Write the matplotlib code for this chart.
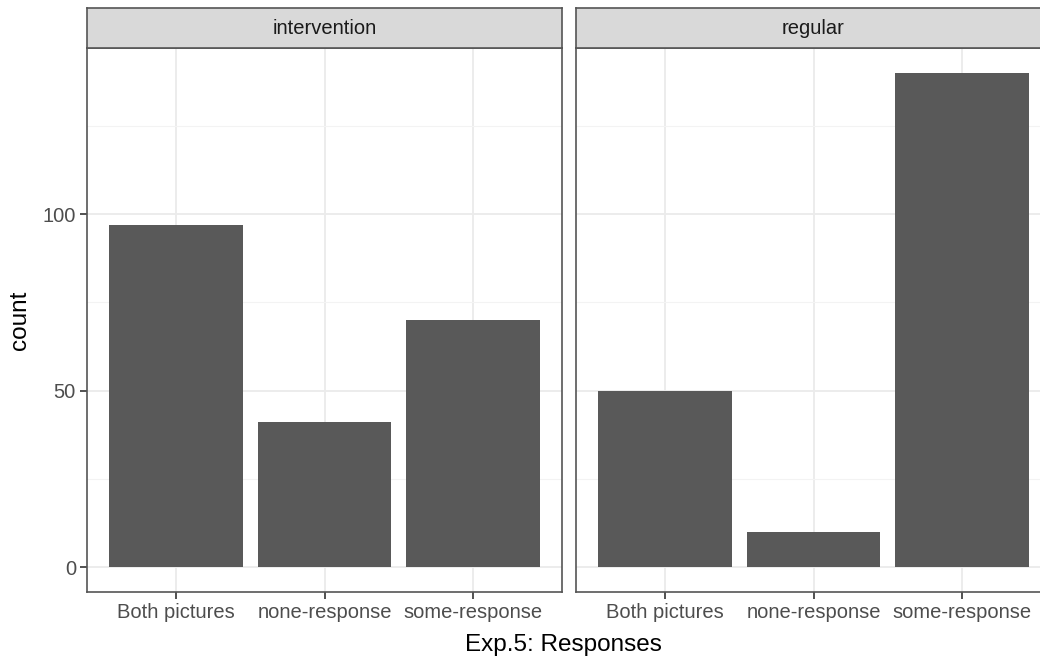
import matplotlib
matplotlib.use("Agg")
import matplotlib.pyplot as plt
from matplotlib.ticker import MultipleLocator

plt.rcParams['font.family'] = ['Liberation Sans', 'DejaVu Sans']

categories = ["Both pictures", "none-response", "some-response"]
facets = ["intervention", "regular"]
counts = {
    "intervention": [97, 41, 70],
    "regular": [50, 10, 140],
}

W, H = 1040, 659
fig = plt.figure(figsize=(W / 100, H / 100), dpi=100)

# panel boxes in pixels: left, right (right panel runs past the edge, as in the crop)
panel_px = [(87, 562), (576, 1051)]
p_top, p_bot = 48, 592
strip_top = 8

tick_col = "#4D4D4D"
border_col = "#555555"
x = list(range(1, len(categories) + 1))

for i, (facet, (l, r)) in enumerate(zip(facets, panel_px)):
    ax = fig.add_axes([l / W, 1 - p_bot / H, (r - l) / W, (p_bot - p_top) / H])
    ax.set_axisbelow(True)
    ax.bar(x, counts[facet], width=0.9, color="#595959", zorder=2)
    ax.set_xlim(0.4, 3.6)
    ax.set_ylim(-7, 147)
    ax.yaxis.set_major_locator(MultipleLocator(50))
    ax.yaxis.set_minor_locator(MultipleLocator(25))
    ax.set_xticks(x)
    ax.set_xticklabels(categories)
    ax.grid(True, which="major", color="#EBEBEB", linewidth=1.3)
    ax.grid(True, which="minor", axis="y", color="#F3F3F3", linewidth=0.8)
    ax.tick_params(axis="both", which="major", length=5, width=1.2, color="#333333",
                   labelsize=14.5, labelcolor=tick_col, pad=3)
    ax.tick_params(axis="y", which="minor", length=0)
    for s in ax.spines.values():
        s.set_color(border_col)
        s.set_linewidth(1.2)
    if i > 0:
        ax.tick_params(axis="y", which="major", length=0, labelleft=False)
    else:
        ax.set_ylabel("count", fontsize=17.5, color="black", labelpad=8)

    # facet strip
    sax = fig.add_axes([l / W, 1 - p_top / H, (r - l) / W, (p_top - strip_top) / H])
    sax.set_xticks([])
    sax.set_yticks([])
    sax.set_facecolor("#D9D9D9")
    for s in sax.spines.values():
        s.set_color(border_col)
        s.set_linewidth(1.2)
    sax.text(0.5, 0.5, facet, ha="center", va="center", fontsize=14.5,
             color="#1A1A1A", transform=sax.transAxes)

fig.text(563 / W, 1 - 645 / H, "Exp.5: Responses", ha="center", va="center",
         fontsize=17.5, color="black")

fig.savefig("out.png", dpi=100)
